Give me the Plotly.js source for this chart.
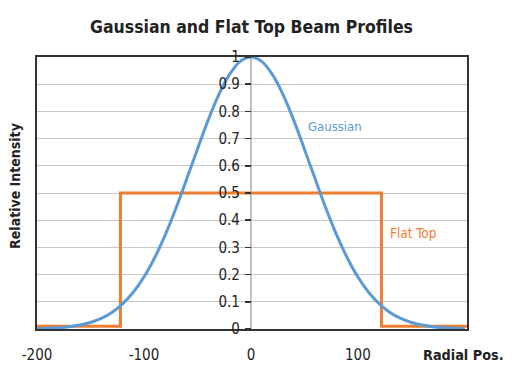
<!DOCTYPE html>
<html>
<head>
<meta charset="utf-8">
<script src="https://cdn.plot.ly/plotly-3.0.1.min.js"></script>
<style>html,body{margin:0;padding:0;background:#fff;}#chart{width:518px;height:365px;}</style>
</head>
<body>
<div id="chart"></div>
<script>
// Gaussian profile
const gaussX = [-200,-190,-180,-170,-160,-150,-140,-130,-120,-110,-100,-90,-80,-70,-60,-50,-40,-30,-20,-10,0,10,20,30,40,50,60,70,80,90,100,110,120,130,140,150,160,170,180,190,200];
const gaussY = [0.0013,0.0026,0.0047,0.0084,0.0145,0.024,0.039,0.061,0.0925,0.135,0.191,0.262,0.347,0.445,0.552,0.661,0.768,0.862,0.936,0.984,1,0.984,0.936,0.862,0.768,0.661,0.552,0.445,0.347,0.262,0.191,0.135,0.0925,0.061,0.039,0.024,0.0145,0.0084,0.0047,0.0026,0.0013];
// Flat top profile
const flatX = [-200,-122,-122,122,122,202];
const flatY = [0.01,0.01,0.5,0.5,0.01,0.01];
const xTicks = [-200,-100,0,100];
const yTicks = [0,0.1,0.2,0.3,0.4,0.5,0.6,0.7,0.8,0.9,1];
const yTickText = ['0','0.1','0.2','0.3','0.4','0.5','0.6','0.7','0.8','0.9','1'];

const FONT = '"DejaVu Sans Condensed", "Liberation Sans Narrow", Arial, sans-serif';
const BLUE = '#5b9bd5', ORANGE = '#ed7d31', DARK = '#222';

const data = [
  {x: flatX, y: flatY, mode: 'lines', line: {color: ORANGE, width: 3}, hoverinfo: 'skip'},
  {x: gaussX, y: gaussY, mode: 'lines', line: {color: BLUE, width: 3, shape: 'spline'}, hoverinfo: 'skip'}
];

const layout = {
  width: 518, height: 365,
  margin: {l: 37, r: 51, t: 57, b: 36},
  paper_bgcolor: '#fff', plot_bgcolor: '#fff',
  showlegend: false,
  font: {family: FONT, color: DARK, size: 15},
  title: {text: '<b>Gaussian and Flat Top Beam Profiles</b>', font: {family: FONT, size: 17.5, color: DARK},
          x: 0.4855, xref: 'container', xanchor: 'center', y: 0.926, yref: 'container', yanchor: 'middle'},
  xaxis: {range: [-200, 202], tickvals: xTicks, ticktext: xTicks.map(String), showgrid: false,
          zeroline: true, zerolinecolor: '#c0c0c0', zerolinewidth: 1.5,
          showline: true, mirror: true, linecolor: '#333', linewidth: 2, ticks: '',
          ticklabelstandoff: 11, tickfont: {family: FONT, size: 15, color: DARK}},
  yaxis: {range: [0, 1], tickvals: yTicks, showticklabels: false, showgrid: true, gridcolor: '#c8c8c8', gridwidth: 1,
          zeroline: false, showline: true, mirror: true, linecolor: '#333', linewidth: 2, ticks: ''},
  yaxis2: {range: [0, 1], overlaying: 'y', anchor: 'free', position: 200/402, side: 'left',
           tickvals: yTicks, ticktext: yTickText, showgrid: false, zeroline: false, showline: false,
           ticks: 'outside', ticklen: 6, tickcolor: '#333', tickwidth: 1.5, ticklabelstandoff: 2,
           tickfont: {family: FONT, size: 15, color: DARK}},
  annotations: [
    {text: '<b>Relative Intensity</b>', xref: 'paper', yref: 'paper', x: -0.0512, y: 0.526, textangle: -90,
     showarrow: false, font: {family: FONT, size: 14, color: DARK}, xanchor: 'center', yanchor: 'middle'},
    {text: '<b>Radial Pos.</b>', xref: 'paper', yref: 'paper', x: 0.9907, y: -0.0956,
     showarrow: false, font: {family: FONT, size: 14.3, color: DARK}, xanchor: 'center', yanchor: 'middle'},
    {text: 'Gaussian', xref: 'x', yref: 'y', x: 78.5, y: 0.746, showarrow: false,
     font: {family: FONT, size: 13, color: BLUE}, xanchor: 'center', yanchor: 'middle'},
    {text: 'Flat Top', xref: 'x', yref: 'y', x: 151.4, y: 0.352, showarrow: false,
     font: {family: FONT, size: 13.4, color: ORANGE}, xanchor: 'center', yanchor: 'middle'}
  ]
};
// invisible trace to activate the second y axis placed at x = 0
data.push({x: [0], y: [0], yaxis: 'y2', mode: 'markers', marker: {opacity: 0}, hoverinfo: 'skip'});
Plotly.newPlot('chart', data, layout, {displayModeBar: false, staticPlot: true});
</script>
</body>
</html>
